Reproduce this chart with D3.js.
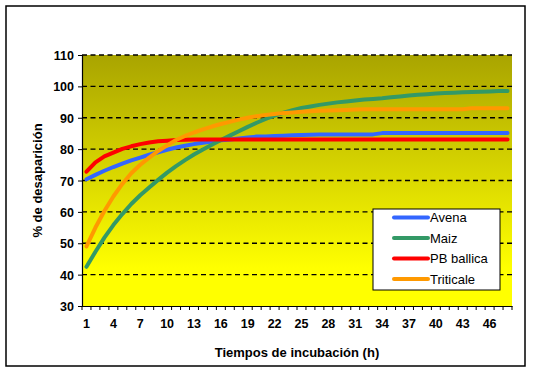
<!DOCTYPE html>
<html><head><meta charset="utf-8">
<script src="https://cdn.jsdelivr.net/npm/d3@7"></script>
<style>body{margin:0;background:#fff}svg{display:block}text{font-family:Arial,"Liberation Sans",sans-serif}</style>
</head><body>
<svg id="c" width="533" height="374"></svg>
<script>
const hours = d3.range(1, 49);
const seriesNames = ["Avena", "Maiz", "PB ballica", "Triticale"];
const seriesColors = ["#3366FF", "#339966", "#FF0000", "#FF9900"];
const avena = [70.4,71.8,73.1,74.3,75.4,76.4,77.3,78.2,79.0,79.8,80.5,81.1,81.6,82.0,82.4,82.8,83.1,83.4,83.7,84.0,84.0,84.2,84.3,84.4,84.5,84.6,84.7,84.7,84.7,84.7,84.7,84.7,84.7,85.1,85.1,85.1,85.1,85.1,85.1,85.1,85.1,85.1,85.1,85.1,85.1,85.1,85.1,85.1];
const maiz = [42.5,47.3,51.8,55.8,59.3,62.5,65.3,67.8,70.2,72.5,74.6,76.5,78.3,79.9,81.4,82.9,84.3,85.7,87.1,88.4,89.6,90.7,91.6,92.4,93.1,93.6,94.1,94.5,94.9,95.2,95.5,95.8,96.0,96.2,96.5,96.8,97.1,97.3,97.5,97.7,97.9,98.0,98.1,98.2,98.3,98.4,98.5,98.5];
const pbBallica = [72.8,75.8,77.7,78.9,80.1,80.9,81.6,82.1,82.5,82.7,82.9,83.0,83.1,83.1,83.1,83.1,83.1,83.1,83.1,83.1,83.1,83.1,83.1,83.1,83.1,83.1,83.1,83.1,83.1,83.1,83.1,83.1,83.1,83.1,83.1,83.1,83.1,83.1,83.1,83.1,83.1,83.1,83.1,83.1,83.1,83.1,83.1,83.1];
const triticale = [49.0,55.0,60.3,64.9,68.9,72.3,75.0,77.3,79.4,81.2,82.9,84.2,85.3,86.3,87.2,88.0,88.7,89.4,90.0,90.5,90.9,91.2,91.5,91.7,91.9,92.1,92.2,92.3,92.4,92.5,92.6,92.7,92.7,92.7,92.7,92.7,92.7,92.7,92.7,92.7,92.7,92.7,92.7,93.0,93.0,93.0,93.0,93.0];
const yTicks = [30,40,50,60,70,80,90,100,110];
const xTickLabels = [1,4,7,10,13,16,19,22,25,28,31,34,37,40,43,46];
const yTitle = "% de desaparición";
const xTitle = "Tiempos de incubación (h)";

const allSeries = [avena, maiz, pbBallica, triticale];
const svg = d3.select("#c");
const L = 82, R = 512, T = 55, B = 306;

// outer border
svg.append("rect").attr("x",6).attr("y",6).attr("width",519).attr("height",360)
  .attr("fill","#fff").attr("stroke","#000").attr("stroke-width",1.5);

const x = d3.scaleBand().domain(hours).range([L, R]).padding(0);
const y = d3.scaleLinear().domain([30, 110]).range([B, T]);
const cx = h => x(h) + x.bandwidth() / 2;

// gradient background
const defs = svg.append("defs");
const grad = defs.append("linearGradient").attr("id","bg").attr("x1",0).attr("y1",0).attr("x2",0).attr("y2",1);
grad.append("stop").attr("offset","0%").attr("stop-color","#A9A400");
grad.append("stop").attr("offset","85%").attr("stop-color","#FFFF00");
grad.append("stop").attr("offset","100%").attr("stop-color","#FFFF00");
svg.append("rect").attr("x",L).attr("y",T).attr("width",R-L).attr("height",B-T).attr("fill","url(#bg)");

// gridlines
svg.append("g").selectAll("line").data(yTicks.filter(v => v > 30)).join("line")
  .attr("x1",L).attr("x2",R).attr("y1",d=>y(d)).attr("y2",d=>y(d))
  .attr("stroke","#000").attr("stroke-width",1.3).attr("stroke-dasharray","5,3.5");

// y axis
const yAx = svg.append("g").attr("transform",`translate(${L},0)`)
  .call(d3.axisLeft(y).tickValues(yTicks).tickSize(4).tickPadding(4).tickFormat(d3.format("d")));
yAx.select(".domain").attr("stroke","#000").attr("stroke-width",1.2);
yAx.selectAll(".tick line").attr("stroke","#000");
yAx.selectAll("text").attr("font-size","12.5px").attr("font-weight","bold").attr("fill","#000")
  .attr("font-family","Arial, 'Liberation Sans', sans-serif").attr("dy","0.36em");

// x axis
const xAx = svg.append("g").attr("transform",`translate(0,${B})`)
  .call(d3.axisBottom(x).tickValues(xTickLabels).tickSize(0).tickPadding(13));
xAx.select(".domain").attr("stroke","#000").attr("stroke-width",1.2);
xAx.selectAll("text").attr("font-size","12.5px").attr("font-weight","bold").attr("fill","#000")
  .attr("font-family","Arial, 'Liberation Sans', sans-serif");
// tick marks at band boundaries
const bounds = hours.map(h => x(h)).concat([R]);
svg.append("g").selectAll("line").data(bounds).join("line")
  .attr("x1",d=>d).attr("x2",d=>d).attr("y1",B).attr("y2",B+4)
  .attr("stroke","#000").attr("stroke-width",1);

// lines
const line = d3.line().x((d,i)=>cx(hours[i])).y(d=>y(d));
svg.append("g").selectAll("path").data(allSeries).join("path")
  .attr("d", line).attr("fill","none")
  .attr("stroke",(d,i)=>seriesColors[i]).attr("stroke-width",4)
  .attr("stroke-linejoin","round").attr("stroke-linecap","round");

// titles
svg.append("text").attr("transform",`translate(42,${(T+B)/2}) rotate(-90)`)
  .attr("text-anchor","middle").attr("font-size","13px").attr("font-weight","bold").text(yTitle);
svg.append("text").attr("x",(L+R)/2).attr("y",357)
  .attr("text-anchor","middle").attr("font-size","13px").attr("font-weight","bold").text(xTitle);

// legend
const lg = svg.append("g");
lg.append("rect").attr("x",373).attr("y",209).attr("width",127).attr("height",81)
  .attr("fill","#fff").attr("stroke","#000").attr("stroke-width",1);
const ly = d3.scalePoint().domain(seriesNames).range([217.5, 279]);
seriesNames.forEach((n,i)=>{
  lg.append("line").attr("x1",394).attr("x2",428).attr("y1",ly(n)).attr("y2",ly(n))
    .attr("stroke",seriesColors[i]).attr("stroke-width",4).attr("stroke-linecap","round");
  lg.append("text").attr("x",430).attr("y",ly(n)+4.5).attr("font-size","13px").attr("fill","#000").text(n);
});
</script>
</body></html>
